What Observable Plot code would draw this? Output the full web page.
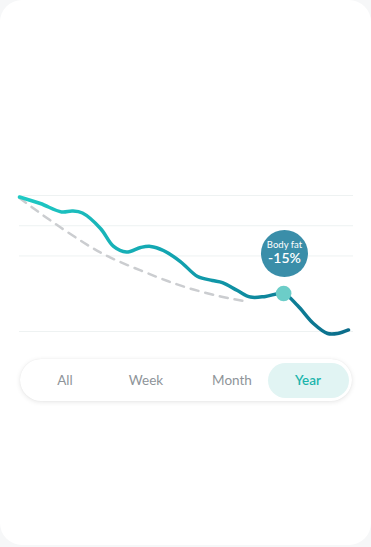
<!DOCTYPE html>
<html>
<head>
<meta charset="utf-8">
<script src="https://cdn.jsdelivr.net/npm/d3@7"></script>
<script src="https://cdn.jsdelivr.net/npm/@observablehq/plot@0.6"></script>
<style>
  html, body { margin: 0; padding: 0; background: #f6f7f8; width: 371px; height: 547px; overflow: hidden; font-family: Lato, "Open Sans", sans-serif; }
  #card { position: absolute; left: 0; top: 0; width: 371px; height: 545px; background: #ffffff; border-radius: 22px; }
  #chart { position: absolute; left: 0; top: 0; }
  #tabs { position: absolute; left: 20px; top: 359px; width: 332px; height: 42px; background: #fff; border-radius: 21px;
          box-shadow: 0 1px 5px rgba(0,0,0,0.10), 0 0 1px rgba(0,0,0,0.08); }
  .tab { position: absolute; top: 4px; height: 35px; line-height: 35px; text-align: center; font-size: 13.5px; color: #8e9499; border-radius: 18px; }
  .tab.active { background: #e1f4f3; color: #1cb4ac; font-weight: 600; }
</style>
</head>
<body>
<div id="card"></div>
<div id="chart"></div>
<div id="tabs"></div>
<script>
// Months along the year (x) and body-fat values (y)
const bodyX = [0, 0.75, 1.51, 1.9, 2.26, 2.91, 3.38, 3.84, 4.35, 4.71, 5.17, 5.78, 6.4, 6.93, 7.29, 7.83, 8.3, 8.84, 9.49, 9.99, 10.56, 11.07, 11.43, 11.82];
const bodyY = [29.9, 29.47, 28.91, 28.97, 28.84, 27.82, 26.63, 26.26, 26.56, 26.63, 26.36, 25.63, 24.64, 24.38, 24.24, 23.71, 23.28, 23.32, 23.51, 22.72, 21.53, 20.87, 20.87, 21.1];
const targetX = [0, 1.11, 2.3, 3.27, 4.35, 5.32, 6.25, 7.22, 8.05];
const targetY = [29.83, 28.35, 26.89, 25.89, 25.04, 24.34, 23.78, 23.32, 23.02];
const gridValues = [30, 28, 26, 21];
const marker = { x: 9.49, y: 23.51 };
const bubble = { x: 9.52, y: 26.16, title: "Body fat", value: "-15%" };
const tabs = ["All", "Week", "Month", "Year"];
const activeTab = "Year";

const body = bodyX.map((x, i) => ({ x, y: bodyY[i] }));
const target = targetX.map((x, i) => ({ x, y: targetY[i] }));

const gradientDefs = () => {
  const ns = "http://www.w3.org/2000/svg";
  const defs = document.createElementNS(ns, "defs");
  const lg = document.createElementNS(ns, "linearGradient");
  lg.setAttribute("id", "lineGrad");
  lg.setAttribute("x1", "0"); lg.setAttribute("x2", "1");
  lg.setAttribute("y1", "0"); lg.setAttribute("y2", "0");
  [["0%", "#1fcac4"], ["50%", "#11a0ae"], ["100%", "#0b6c8a"]].forEach(([o, c]) => {
    const s = document.createElementNS(ns, "stop");
    s.setAttribute("offset", o); s.setAttribute("stop-color", c);
    lg.appendChild(s);
  });
  defs.appendChild(lg);
  return defs;
};

const plot = Plot.plot({
  width: 371,
  height: 350,
  marginLeft: 19,
  marginRight: 18,
  marginTop: 195,
  marginBottom: 19,
  x: { domain: [0, 12], axis: null },
  y: { domain: [21, 30], axis: null },
  style: { background: "transparent", fontFamily: "Lato, 'Open Sans', sans-serif" },
  marks: [
    gradientDefs,
    Plot.ruleY(gridValues, { stroke: "#eef2f2", strokeWidth: 1 }),
    Plot.line(target, { x: "x", y: "y", curve: "natural", stroke: "#cbcdd0", strokeWidth: 2.5, strokeDasharray: "8,7" }),
    Plot.line(body, { x: "x", y: "y", curve: "catmull-rom", stroke: "url(#lineGrad)", strokeWidth: 3.5, strokeLinecap: "round" }),
    Plot.dot([marker], { x: "x", y: "y", r: 7.8, fill: "#6ccdc8" }),
    Plot.dot([bubble], { x: "x", y: "y", r: 23.5, fill: "#3a8ea9" }),
    Plot.text([bubble], { x: "x", y: "y", text: "title", dy: -9, fill: "#ffffff", fontSize: 9.5 }),
    Plot.text([bubble], { x: "x", y: "y", text: "value", dy: 5, fill: "#ffffff", fontSize: 14, fontWeight: 600 })
  ]
});
document.getElementById("chart").appendChild(plot);

const tabsEl = document.getElementById("tabs");
const centers = [45, 126, 212, 288];
tabs.forEach((t, i) => {
  const d = document.createElement("div");
  d.className = "tab" + (t === activeTab ? " active" : "");
  d.textContent = t;
  const w = t === activeTab ? 81 : 70;
  d.style.left = (centers[i] - w / 2) + "px";
  d.style.width = w + "px";
  tabsEl.appendChild(d);
});
</script>
</body>
</html>
